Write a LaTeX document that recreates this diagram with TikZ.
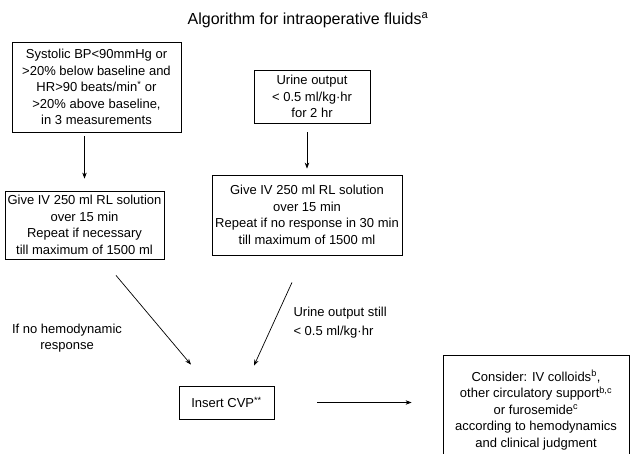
\documentclass[tikz,border=0pt]{standalone}
\usepackage{fontspec}
\setmainfont{Liberation Sans}
\usetikzlibrary{arrows.meta,calc}
\tikzstyle{flowbox}=[draw, line width=.8pt, align=center, inner sep=1pt, font=\fontsize{13}{16.5}\selectfont]
\tikzstyle{flowlabel}=[font=\fontsize{13}{16.5}\selectfont]
\tikzstyle{flowarrow}=[-{Stealth[length=6pt,width=4.5pt]}, line width=.7pt]

\begin{document}
\begin{tikzpicture}[x=1pt, y=-1pt]
	\useasboundingbox (0,0) rectangle (631,453);
	\clip (0,0) rectangle (631,453);
	\node[font=\fontsize{16}{19}\selectfont] (title) at (308,20) {Algorithm for intraoperative fluids\textsuperscript{a}};
	\node[flowbox, minimum width=169, minimum height=90] (systolic) at (96.5,87) {Systolic BP<90mmHg or\\>20\% below baseline and\\HR>90 beats/min\textsuperscript{*} or\\>20\% above baseline,\\in 3 measurements};
	\node[flowbox, minimum width=116, minimum height=53] (urine) at (312,96.5) {Urine output\\< 0.5 ml/kg·hr\\for 2 hr};
	\node[flowbox, minimum width=159, minimum height=68] (givelow) at (84.5,225) {Give IV 250 ml RL solution\\over 15 min\\Repeat if necessary\\till maximum of 1500 ml};
	\node[flowbox, minimum width=190, minimum height=80] (giveurine) at (307,215) {Give IV 250 ml RL solution\\over 15 min\\Repeat if no response in 30 min\\till maximum of 1500 ml};
	\node[flowbox, minimum width=95, minimum height=33] (cvp) at (226.5,402.5) {Insert CVP\textsuperscript{**}};
	\node[flowbox, minimum width=186, minimum height=110] (consider) at (536,410) {Consider: IV colloids\textsuperscript{b},\\other circulatory support\textsuperscript{b,c}\\or furosemide\textsuperscript{c}\\according to hemodynamics\\and clinical judgment};
	\node[flowlabel, align=center] (nohemo) at (67,338) {If no hemodynamic\\response};
	\node[flowlabel, align=left, anchor=west, font=\fontsize{13}{19}\selectfont] (still) at (290,322.5) {Urine output still\\< 0.5 ml/kg·hr};
	\draw[flowarrow, shorten <=4pt, shorten >=12pt] (systolic.south -| givelow.north) -- (givelow.north);
	\draw[flowarrow, shorten <=9pt, shorten >=6pt] (giveurine.north |- urine.south) -- (giveurine.north);
	\draw[flowarrow] ($(givelow.south)+(31.5,16)$) -- ($(cvp.north)+(-35.5,-21)$);
	\draw[flowarrow] ($(giveurine.south)+(-15,27)$) -- ($(cvp.north)+(27.5,-20)$);
	\draw[flowarrow, shorten <=43pt, shorten >=31pt] (cvp.east) -- (cvp.east -| consider.west);
\end{tikzpicture}
\end{document}
